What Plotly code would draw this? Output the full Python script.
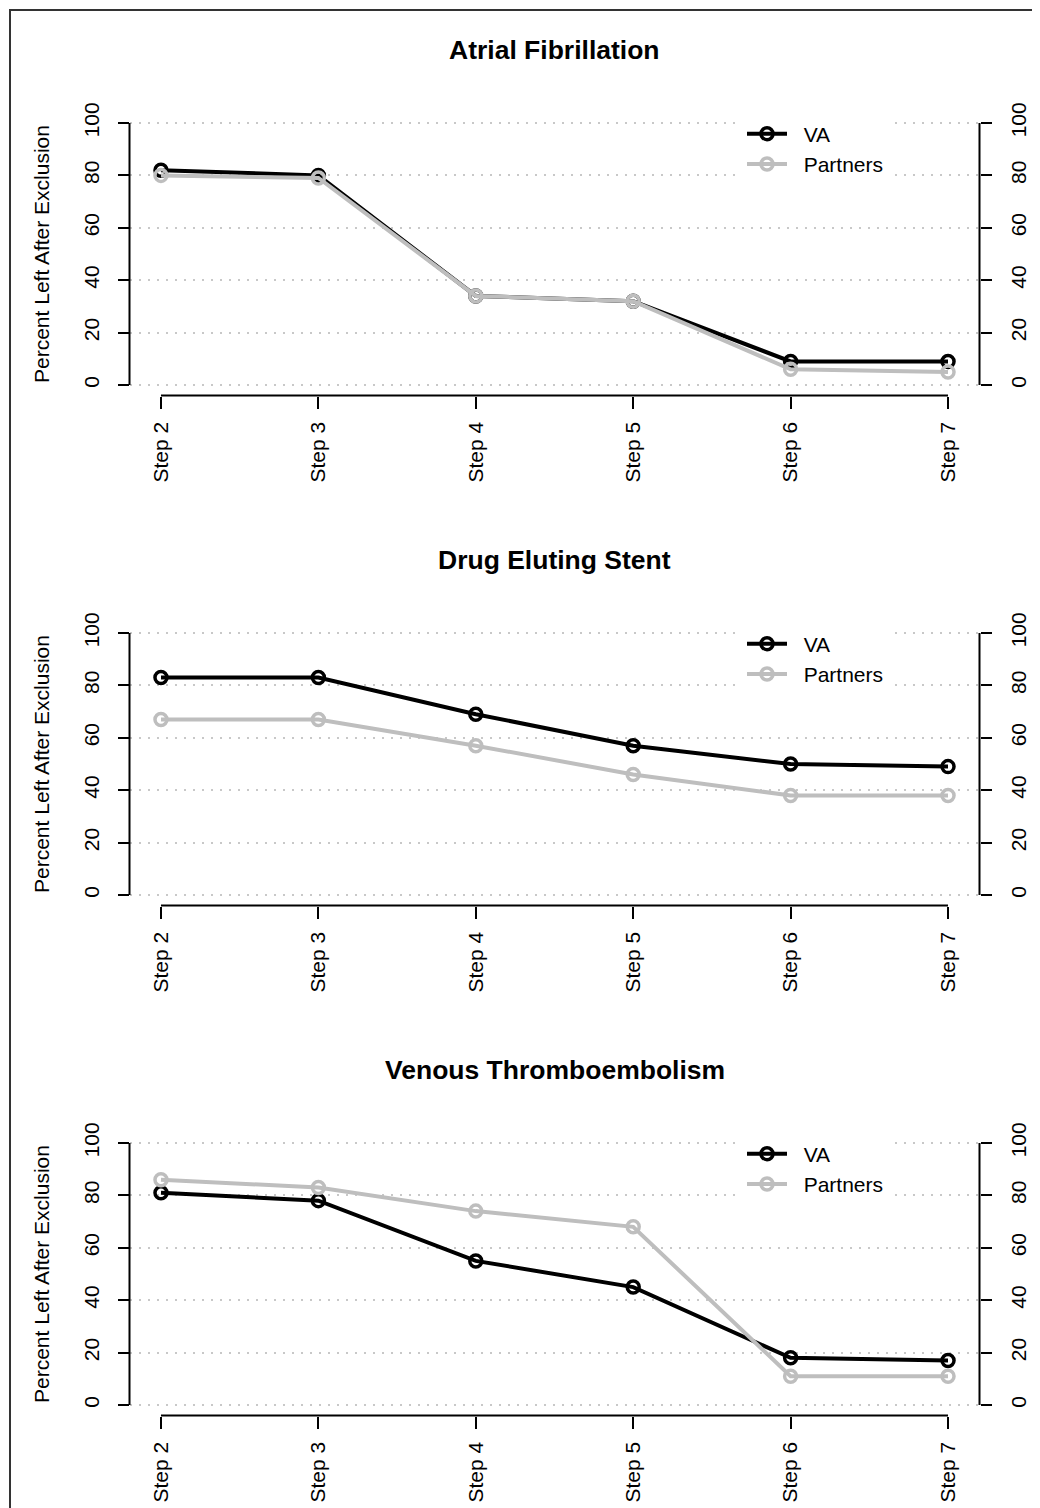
import plotly.graph_objects as go

# ---------------- data ----------------
steps = ["Step 2", "Step 3", "Step 4", "Step 5", "Step 6", "Step 7"]
titles = ["Atrial Fibrillation", "Drug Eluting Stent", "Venous Thromboembolism"]
series_names = ["VA", "Partners"]

af_va = [82, 80, 34, 32, 9, 9]
af_partners = [80, 79, 34, 32, 6, 5]
des_va = [83, 83, 69, 57, 50, 49]
des_partners = [67, 67, 57, 46, 38, 38]
vte_va = [81, 78, 55, 45, 18, 17]
vte_partners = [86, 83, 74, 68, 11, 11]

y_ticks = [0, 20, 40, 60, 80, 100]
y_title = "Percent Left After Exclusion"

panels = [(af_va, af_partners), (des_va, des_partners), (vte_va, vte_partners)]

# ---------------- layout constants ----------------
OFF = 8                       # page body margin
W, H = 1040 - OFF, 1508 - OFF
FONT = "Liberation Sans, Arial, Helvetica, sans-serif"
colors = ["#000000", "#BEBEBE"]

x_left, x_right = 129.5, 979.5
panel_top0, panel_bot0, panel_gap = 112.5, 395.5, 510


def fx(px):
    return (px - OFF) / W


def fy(py):
    return 1 - (py - OFF) / H


fig = go.Figure()
layout = dict(
    width=W, height=H, autosize=False,
    margin=dict(l=0, r=0, t=0, b=0),
    paper_bgcolor="white", plot_bgcolor="white",
    font=dict(family=FONT, color="black", size=21),
    hovermode=False,
)
shapes = []
annotations = []

for i, (va, pt) in enumerate(panels):
    k = i + 1
    xs = "" if k == 1 else str(k)
    xname, yname = f"x{xs}", f"y{xs}"
    rname = f"y{k + 3}"
    legname = "legend" if k == 1 else f"legend{k}"
    top = panel_top0 + panel_gap * i
    bot = panel_bot0 + panel_gap * i
    ydom = [fy(bot), fy(top)]

    for vals, name, col in zip((va, pt), series_names, colors):
        fig.add_trace(go.Scatter(
            x=steps, y=vals, name="\u00a0\u00a0" + name, mode="lines+markers",
            xaxis=xname, yaxis=yname, legend=legname,
            line=dict(color=col, width=4),
            marker=dict(symbol="circle-open", size=12, color=col,
                        line=dict(width=3.5, color=col)),
        ))
    # invisible carrier so the right-hand axis is rendered
    fig.add_trace(go.Scatter(
        x=steps, y=va, mode="markers", xaxis=xname, yaxis=rname,
        marker=dict(opacity=0), showlegend=False, hoverinfo="skip",
    ))

    tick_common = dict(
        ticks="outside", tickwidth=2, tickcolor="black",
        tickangle=-90, tickfont=dict(size=21, family=FONT, color="black"),
        automargin=False, fixedrange=True, zeroline=False, showline=False,
    )
    layout[f"xaxis{xs}"] = dict(
        domain=[fx(x_left), fx(x_right)], anchor=yname,
        type="category", categoryorder="array", categoryarray=steps,
        range=[-0.2, len(steps) - 1 + 0.2],
        showgrid=False, ticklen=12, ticklabelstandoff=5, **tick_common,
    )
    layout[f"yaxis{xs}"] = dict(
        domain=ydom, anchor=xname, range=[-4, 104],
        tickmode="array", tickvals=y_ticks, ticktext=[str(t) for t in y_ticks],
        showgrid=True, gridcolor="#C8C8C8", gridwidth=1.5, griddash="2px,7px",
        ticklen=11, ticklabelstandoff=10, **tick_common,
    )
    layout[f"yaxis{k + 3}"] = dict(
        overlaying=yname, anchor=xname, side="right", range=[-4, 104],
        tickmode="array", tickvals=y_ticks, ticktext=[str(t) for t in y_ticks],
        showgrid=False, ticklen=11, ticklabelstandoff=9, **tick_common,
    )
    layout[legname] = dict(
        x=fx(742), y=fy(top + 1), xanchor="left", yanchor="top",
        bgcolor="white", borderwidth=0, font=dict(size=21, family=FONT),
        itemwidth=40, tracegroupgap=0, traceorder="normal",
    )

    # R-style axis lines spanning first..last tick
    shapes.append(dict(type="line", xref=f"{xname} domain", yref=yname,
                       x0=0, x1=0, y0=y_ticks[0], y1=y_ticks[-1],
                       line=dict(color="black", width=2)))
    shapes.append(dict(type="line", xref=f"{xname} domain", yref=yname,
                       x0=1, x1=1, y0=y_ticks[0], y1=y_ticks[-1],
                       line=dict(color="black", width=2)))
    shapes.append(dict(type="line", xref=xname, yref=f"{yname} domain",
                       x0=0, x1=len(steps) - 1, y0=0, y1=0,
                       line=dict(color="black", width=2)))

    annotations.append(dict(
        text=f"<b>{titles[i]}</b>", xref="paper", yref="paper",
        x=fx((x_left + x_right) / 2), y=fy(50 + panel_gap * i),
        xanchor="center", yanchor="middle", showarrow=False,
        font=dict(size=26.5, family=FONT, color="black"),
    ))
    annotations.append(dict(
        text=y_title, xref="paper", yref="paper",
        x=fx(41), y=fy((top + bot) / 2), textangle=-90,
        xanchor="center", yanchor="middle", showarrow=False,
        font=dict(size=21, family=FONT, color="black"),
    ))

# outer frame (top and left visible; the rest is cropped)
shapes.append(dict(type="rect", xref="paper", yref="paper",
                   x0=fx(10), y0=-0.02, x1=1.02, y1=fy(10),
                   line=dict(color="#333333", width=2), layer="below"))

layout["shapes"] = shapes
layout["annotations"] = annotations
fig.update_layout(**layout)
fig.write_html("out.html")
